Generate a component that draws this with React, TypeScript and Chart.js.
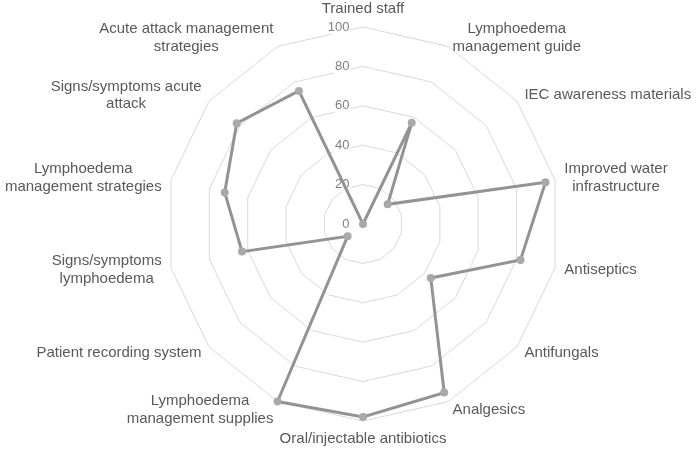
import React, { useEffect, useRef } from "react";
import { Chart, registerables } from "chart.js";

Chart.register(...registerables);

const CATEGORIES: string[][] = [
  ["Trained staff"],
  ["Lymphoedema", "management guide"],
  ["IEC awareness materials"],
  ["Improved water", "infrastructure"],
  ["Antiseptics"],
  ["Antifungals"],
  ["Analgesics"],
  ["Oral/injectable antibiotics"],
  ["Lymphoedema", "management supplies"],
  ["Patient recording system"],
  ["Signs/symptoms", "lymphoedema"],
  ["Lymphoedema", "management strategies"],
  ["Signs/symptoms acute", "attack"],
  ["Acute attack management", "strategies"],
];

const VALUES: number[] = [0, 57, 16, 95, 82, 44, 95, 98, 100, 10, 63, 72, 82, 75];

const TICK_VALUES: number[] = [0, 20, 40, 60, 80, 100];
const TICK_LABELS: string[] = ["0", "20", "40", "60", "80", "100"];

const FONT = '"Liberation Sans", Arial, sans-serif';

const labelPlugin = {
  id: "customLabels",
  beforeDatasetsDraw(chart: any) {
    const scale = chart.scales.r;
    const ctx = chart.ctx as CanvasRenderingContext2D;
    ctx.save();
    // tick labels
    ctx.font = `13px ${FONT}`;
    ctx.textAlign = "right";
    ctx.textBaseline = "middle";
    TICK_VALUES.forEach((v, i) => {
      const t = TICK_LABELS[i];
      const y = scale.yCenter - scale.getDistanceFromCenterForValue(v);
      const x = scale.xCenter - 13.5;
      const w = ctx.measureText(t).width;
      ctx.fillStyle = "#ffffff";
      ctx.fillRect(x - w - 1, y - 7, w + 2, 14);
      ctx.fillStyle = "#7f7f7f";
      ctx.fillText(t, x, y);
    });
    // point labels
    ctx.font = `15px ${FONT}`;
    ctx.textAlign = "center";
    ctx.textBaseline = "middle";
    ctx.fillStyle = "#595959";
    const lh = 17.5;
    CATEGORIES.forEach((lines, i) => {
      const angle = scale.getIndexAngle(i) - Math.PI / 2;
      const p = scale.getPointPosition(i, scale.drawingArea + 9.5);
      const c = Math.cos(angle);
      const s = Math.sin(angle);
      const w = Math.max(...lines.map((l) => ctx.measureText(l).width));
      const h = lines.length * lh;
      let cx: number;
      let top: number;
      if (Math.abs(c) < 0.05) {
        cx = p.x;
        top = s < 0 ? p.y - h : p.y;
      } else {
        cx = c > 0 ? p.x + w / 2 : p.x - w / 2;
        top = p.y - h / 2;
      }
      lines.forEach((l, k) => {
        ctx.fillText(l, cx, top + lh * (k + 0.5));
      });
    });
    ctx.restore();
  },
};

export default function App() {
  const ref = useRef<HTMLCanvasElement>(null);
  useEffect(() => {
    if (!ref.current) return;
    const chart = new Chart(ref.current, {
      type: "radar",
      data: {
        labels: CATEGORIES.map((c) => c.join(" ")),
        datasets: [
          {
            data: VALUES,
            borderColor: "#939393",
            borderWidth: 3,
            backgroundColor: "rgba(0,0,0,0)",
            fill: false,
            pointRadius: 4,
            pointBackgroundColor: "#a9a9a9",
            pointBorderWidth: 0,
            pointBorderColor: "#a9a9a9",
          },
        ],
      },
      options: {
        animation: false,
        responsive: false,
        layout: { padding: { left: 166, right: 138, top: 27, bottom: 31 } },
        plugins: { legend: { display: false }, tooltip: { enabled: false } },
        scales: {
          r: {
            min: 0,
            max: 100,
            beginAtZero: true,
            ticks: { stepSize: 20, display: false },
            angleLines: { display: false },
            grid: { color: "#d9d9d9", lineWidth: 1 },
            pointLabels: { display: false },
          },
        },
      },
      plugins: [labelPlugin],
    });
    return () => chart.destroy();
  }, []);
  return (
    <div style={{ position: "absolute", left: 0, top: 0, width: 698, height: 452, background: "#fff" }}>
      <canvas ref={ref} width={698} height={452} style={{ display: "block", width: 698, height: 452 }} />
    </div>
  );
}
